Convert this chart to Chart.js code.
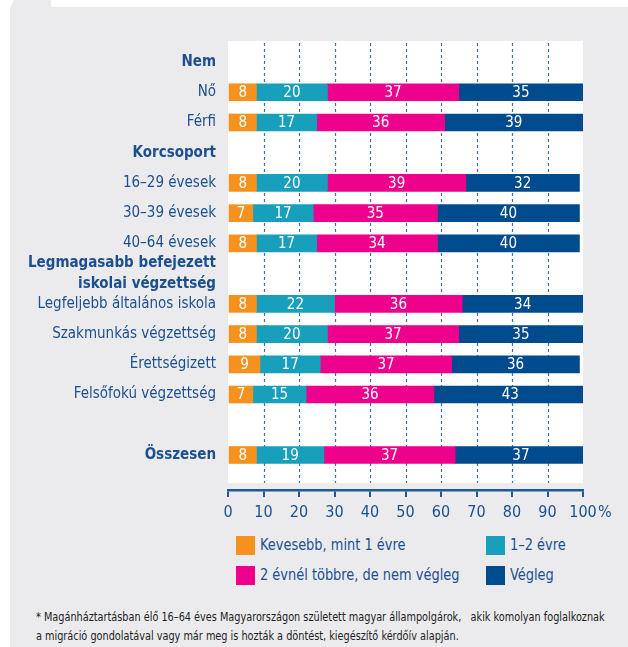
<!DOCTYPE html>
<html>
<head>
<meta charset="utf-8">
<script src="https://cdn.jsdelivr.net/npm/chart.js@4"></script>
<style>
  html, body { margin: 0; padding: 0; background: #fff; }
  body { width: 628px; height: 647px; position: relative; overflow: hidden;
         font-family: "DejaVu Sans Condensed", "Liberation Sans", sans-serif; }
  #panel { position: absolute; left: 10px; top: 0; right: 0; bottom: 0; background: #ebebee;
           clip-path: polygon(4px 0, 100% 0, 100% 100%, 0 100%, 0 8px); }
  #strip { position: absolute; left: 51px; top: 0; right: 0; height: 7px; background: #fff; }
  #chart { position: absolute; left: 0; top: 0; }
  .leg { position: absolute; height: 20px; }
  .leg i { position: absolute; left: 0; top: 1px; width: 19px; height: 19px; }
  .leg span { position: absolute; left: 24px; top: 0; font-size: 16px; color: #1b4f8e; line-height: 20px;
              white-space: nowrap; transform: scaleX(0.9); transform-origin: 0 50%; }
  #note { position: absolute; left: 36px; top: 608px; font-size: 12px; line-height: 19px; color: #222;
          white-space: nowrap; transform: scaleX(0.9); transform-origin: 0 0; }
</style>
</head>
<body>
<div id="panel"></div>
<div id="strip"></div>
<canvas id="chart" width="628" height="530"></canvas>
<div id="legend"></div>
<div id="note">* Magánháztartásban élő 16–64 éves Magyarországon született magyar állampolgárok,&nbsp;&nbsp; akik komolyan foglalkoznak<br>a migráció gondolatával vagy már meg is hozták a döntést, kiegészítő kérdőív alapján.</div>
<script>
const FONT = "'DejaVu Sans Condensed', 'Liberation Sans', sans-serif";
const BLUE = "#1b4f8e";

// rows top to bottom; headers have no bar
const rowLabels = [
  "Nem", "Nő", "Férfi",
  "Korcsoport", "16–29 évesek", "30–39 évesek", "40–64 évesek",
  ["Legmagasabb befejezett", "iskolai végzettség"],
  "Legfeljebb általános iskola", "Szakmunkás végzettség", "Érettségizett", "Felsőfokú végzettség",
  "", "Összesen"
];
const headerRows = [0, 3, 7, 13];

const seriesNames = ["Kevesebb, mint 1 évre", "1–2 évre", "2 évnél többre, de nem végleg", "Végleg"];
const seriesColors = ["#f5921f", "#179fbb", "#ec008c", "#004b8d"];

const lessThan1 = [null, 8, 8, null, 8, 7, 8, null, 8, 8, 9, 7, null, 8];
const oneToTwo  = [null, 20, 17, null, 20, 17, 17, null, 22, 20, 17, 15, null, 19];
const moreThan2 = [null, 37, 36, null, 39, 35, 34, null, 36, 37, 37, 36, null, 37];
const forever   = [null, 35, 39, null, 32, 40, 40, null, 34, 35, 36, 43, null, 37];

const xTicks = [0, 10, 20, 30, 40, 50, 60, 70, 80, 90, 100];

function points(arr) {
  return arr.map((v, i) => v == null ? null : { x: v, y: i }).filter(Boolean);
}

const datasets = [lessThan1, oneToTwo, moreThan2, forever].map((arr, k) => ({
  label: seriesNames[k],
  data: points(arr),
  backgroundColor: seriesColors[k],
  borderWidth: 0,
  barThickness: 17
}));

// white plot box + dashed grid
const backdrop = {
  id: "backdrop",
  beforeDatasetsDraw(chart) {
    const { ctx, chartArea: a, scales: { x } } = chart;
    ctx.save();
    ctx.fillStyle = "#fff";
    ctx.fillRect(a.left, a.top, a.right - a.left, a.bottom - 7 - a.top);
    ctx.strokeStyle = "#3f70aa";
    ctx.lineWidth = 1.2;
    ctx.setLineDash([3, 3]);
    xTicks.slice(1, -1).forEach(v => {
      const px = Math.round(x.getPixelForValue(v)) + 0.5;
      ctx.beginPath();
      ctx.moveTo(px, a.top + 2);
      ctx.lineTo(px, a.bottom - 7);
      ctx.stroke();
    });
    ctx.restore();
  }
};

// value labels inside segments, and the % sign
const valueLabels = {
  id: "valueLabels",
  afterDatasetsDraw(chart) {
    const ctx = chart.ctx;
    ctx.save();
    ctx.font = `15px ${FONT}`;
    ctx.fillStyle = "#fff";
    ctx.textAlign = "center";
    ctx.textBaseline = "middle";
    chart.data.datasets.forEach((ds, i) => {
      chart.getDatasetMeta(i).data.forEach((el, j) => {
        const c = el.getCenterPoint();
        ctx.fillText(String(ds.data[j].x), c.x, c.y + 1);
      });
    });
    const x = chart.scales.x;
    ctx.font = `16px ${FONT}`;
    ctx.fillStyle = BLUE;
    ctx.textAlign = "left";
    ctx.textBaseline = "middle";
    ctx.fillText("%", x.getPixelForValue(100) + 15, 513);
    ctx.restore();
  }
};

new Chart(document.getElementById("chart"), {
  type: "bar",
  data: { datasets },
  plugins: [backdrop, valueLabels],
  options: {
    indexAxis: "y",
    responsive: false,
    animation: false,
    devicePixelRatio: 1,
    layout: { padding: { top: 41, right: 45, left: 0, bottom: 5 } },
    plugins: { legend: { display: false }, tooltip: { enabled: false } },
    scales: {
      x: {
        type: "linear", stacked: true, min: 0, max: 100, offset: false,
        afterFit: s => { s.height = 35; s.paddingLeft = 0; s.paddingRight = 0; },
        afterBuildTicks: s => { s.ticks = xTicks.map(v => ({ value: v })); },
        border: { display: true, color: "#1f5a96", width: 2.5 },
        grid: { drawOnChartArea: false, drawTicks: true, tickLength: 7, color: "#1f5a96", lineWidth: 2 },
        ticks: { color: BLUE, padding: 6, maxRotation: 0, minRotation: 0, autoSkip: false, font: { family: FONT, size: 16 } }
      },
      y: {
        type: "linear", stacked: true, reverse: true, min: -0.695, max: 14.158, offset: false,
        afterFit: s => { s.width = 228; s.paddingTop = 0; s.paddingBottom = 0; },
        afterBuildTicks: s => { s.ticks = rowLabels.map((_, i) => ({ value: i })); },
        border: { display: false },
        grid: { display: false, drawTicks: false, offset: false },
        ticks: {
          autoSkip: false,
          padding: 12,
          color: BLUE,
          callback: v => rowLabels[v],
          font: c => ({ family: FONT, size: 15, lineHeight: 1.4, weight: headerRows.includes(c.index) ? "bold" : "normal" })
        }
      }
    }
  }
});

// legend, 2 x 2
const legendPos = [[236, 535], [486, 535], [236, 565], [486, 565]];
document.getElementById("legend").innerHTML = seriesNames.map((n, k) =>
  `<div class="leg" style="left:${legendPos[k][0]}px;top:${legendPos[k][1]}px"><i style="background:${seriesColors[k]}"></i><span>${n}</span></div>`
).join("");
</script>
</body>
</html>
